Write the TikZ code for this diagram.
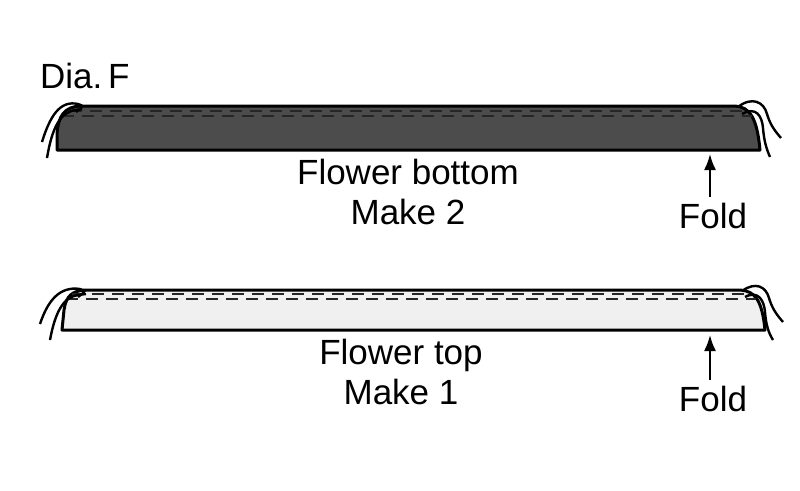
\documentclass[tikz,border=0pt]{standalone}
\usepackage{fontspec}
\setmainfont{Liberation Sans}
\usetikzlibrary{arrows.meta}
\begin{document}
\begin{tikzpicture}[x=1pt,y=-1pt,
  lbl/.style={font=\fontsize{35}{40}\selectfont, align=center, inner sep=0pt},
  strip/.style={draw=black, line width=3pt, line join=round},
  stitch/.style={draw=black!85, line width=2pt, dash pattern=on 12pt off 8pt},
  thread/.style={draw=black, line width=2.4pt},
  arr/.style={draw=black, line width=2pt, -{Latex[length=16pt,width=12pt]}}]
\useasboundingbox (0,0) rectangle (800,490);
% top strip
\path[strip, fill=black!70] (57,150) -- (57,135) .. controls (58,115) and (65,107) .. (80,106) -- (735,106) .. controls (750,107) and (757,118) .. (760,150) -- cycle;
\draw[stitch] (70,111) -- (745,111);
\draw[stitch] (62,116) -- (752,116);
\draw[thread] (42,142) .. controls (50,116) and (60,100) .. (78,104) .. controls (84,106) .. (76,112);
\draw[thread] (47,158) .. controls (52,128) and (60,112) .. (76,110) -- (82,109);
\draw[thread] (738,107) .. controls (752,96) and (764,102) .. (767,114) .. controls (770,124) and (774,130) .. (781,138);
\draw[thread] (742,114) .. controls (756,106) and (762,116) .. (763,128) .. controls (764,140) and (766,148) .. (770,157);
% bottom strip
\path[strip, fill=black!6] (62,330) -- (64,310) .. controls (66,296) and (72,291) .. (85,290) -- (740,290) .. controls (755,291) and (762,300) .. (765,330) -- cycle;
\draw[stitch] (72,294) -- (750,294);
\draw[stitch] (66,299) -- (756,299);
\draw[thread] (40,324) .. controls (48,300) and (60,286) .. (80,289) .. controls (86,291) .. (78,297);
\draw[thread] (50,340) .. controls (55,313) and (63,297) .. (78,295) -- (86,294);
\draw[thread] (742,291) .. controls (756,281) and (766,287) .. (769,298) .. controls (772,308) and (776,314) .. (783,322);
\draw[thread] (745,297) .. controls (758,290) and (764,300) .. (765,312) .. controls (766,324) and (768,332) .. (773,340);
% labels
\node[lbl, anchor=west] (dia) at (40,76) {Dia.\,F};
\node[lbl] (fb) at (408,192) {Flower bottom\\Make 2};
\node[lbl] (fold1) at (713,216) {Fold};
\coordinate (a1) at (710,154);
\draw[arr] (fold1.north -| a1) ++(0,-6) -- (a1);
\node[lbl] (ft) at (401,372) {Flower top\\Make 1};
\node[lbl] (fold2) at (713,399) {Fold};
\coordinate (a2) at (710,335);
\draw[arr] (fold2.north -| a2) ++(0,-6) -- (a2);
\end{tikzpicture}
\end{document}
